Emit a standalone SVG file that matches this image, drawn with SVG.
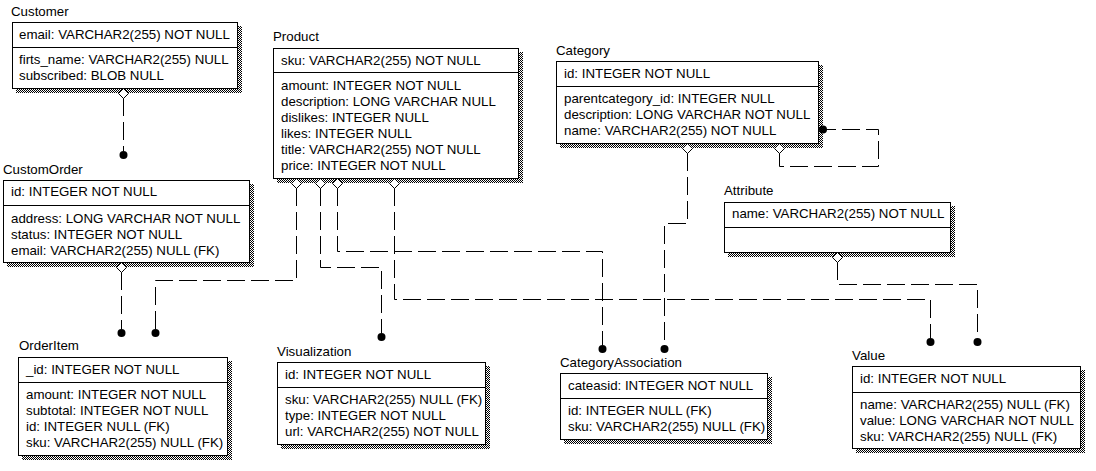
<svg xmlns="http://www.w3.org/2000/svg" width="1096" height="471" viewBox="0 0 1096 471">
<style>
text{font-family:"Liberation Sans",Arial,sans-serif;font-size:13.3px;fill:#000}
.box{fill:#fff;stroke:#000;stroke-width:1}
.sh{fill:url(#dith)}
.div{stroke:#000;stroke-width:1}
.con{fill:none;stroke:#000;stroke-width:1;stroke-dasharray:18 6}
.dia{fill:#fff;stroke:#000;stroke-width:1}
.dot{fill:#000}
</style>
<defs>
<pattern id="dith" width="2" height="2" patternUnits="userSpaceOnUse">
<rect width="2" height="2" fill="#fff"/>
<rect width="1" height="1" fill="#000"/>
<rect x="1" y="1" width="1" height="1" fill="#000"/>
</pattern>
</defs>
<rect width="1096" height="471" fill="#fff"/>

<g id="connectors">
<path class="con" d="M123.5 98V151"/>
<path class="con" d="M121.5 272V329"/>
<path class="con" d="M296.5 188V280.5H155.5V329"/>
<path class="con" d="M320.5 188V267.5H381.5V333"/>
<path class="con" d="M337.5 188V251.5H602.5V345"/>
<path class="con" d="M394.5 188V299.5H930.5V338"/>
<path class="con" d="M687.5 153V223.5H664.5V345"/>
<path class="con" d="M779.5 153V166.5H878.5V129.5H823"/>
<path class="con" d="M837.5 262V284.5H977.5V338"/>
</g>

<g id="Customer">
<text x="11" y="16">Customer</text>
<rect class="sh" x="16" y="26" width="226" height="67"/>
<rect class="box" x="12.5" y="22.5" width="225" height="66"/>
<line class="div" x1="12" y1="47.5" x2="238" y2="47.5"/>
<text x="19" y="39">email: VARCHAR2(255) NOT NULL</text>
<text x="19" y="64">firts_name: VARCHAR2(255) NULL</text>
<text x="19" y="80">subscribed: BLOB NULL</text>
<polygon class="dia" points="123.5,88.5 128.5,93.5 123.5,98.5 118.5,93.5"/>
</g>

<g id="CustomOrder">
<text x="3" y="174">CustomOrder</text>
<rect class="sh" x="7" y="184" width="247" height="83"/>
<rect class="box" x="3.5" y="180.5" width="246" height="82"/>
<line class="div" x1="3" y1="205.5" x2="250" y2="205.5"/>
<text x="11" y="196">id: INTEGER NOT NULL</text>
<text x="11" y="223">address: LONG VARCHAR NOT NULL</text>
<text x="11" y="239">status: INTEGER NOT NULL</text>
<text x="11" y="255">email: VARCHAR2(255) NULL (FK)</text>
<polygon class="dia" points="121.5,262.5 126.5,267.5 121.5,272.5 116.5,267.5"/>
<circle class="dot" cx="123.5" cy="155" r="4"/>
</g>

<g id="OrderItem">
<text x="19" y="350">OrderItem</text>
<rect class="sh" x="22" y="361" width="210" height="99"/>
<rect class="box" x="18.5" y="357.5" width="209" height="98"/>
<line class="div" x1="18" y1="382.5" x2="228" y2="382.5"/>
<text x="26" y="374">_id: INTEGER NOT NULL</text>
<text x="26" y="399">amount: INTEGER NOT NULL</text>
<text x="26" y="415">subtotal: INTEGER NOT NULL</text>
<text x="26" y="431">id: INTEGER NULL (FK)</text>
<text x="26" y="447">sku: VARCHAR2(255) NULL (FK)</text>
<circle class="dot" cx="121.5" cy="333" r="4"/>
<circle class="dot" cx="155.5" cy="333" r="4"/>
</g>

<g id="Product">
<text x="273" y="41">Product</text>
<rect class="sh" x="277" y="52" width="246" height="131"/>
<rect class="box" x="273.5" y="48.5" width="245" height="130"/>
<line class="div" x1="273" y1="72.5" x2="519" y2="72.5"/>
<text x="281" y="65">sku: VARCHAR2(255) NOT NULL</text>
<text x="281" y="90">amount: INTEGER NOT NULL</text>
<text x="281" y="106">description: LONG VARCHAR NULL</text>
<text x="281" y="122">dislikes: INTEGER NULL</text>
<text x="281" y="138">likes: INTEGER NULL</text>
<text x="281" y="154">title: VARCHAR2(255) NOT NULL</text>
<text x="281" y="170">price: INTEGER NOT NULL</text>
<polygon class="dia" points="296.5,178.5 301.5,183.5 296.5,188.5 291.5,183.5"/>
<polygon class="dia" points="320.5,178.5 325.5,183.5 320.5,188.5 315.5,183.5"/>
<polygon class="dia" points="337.5,178.5 342.5,183.5 337.5,188.5 332.5,183.5"/>
<polygon class="dia" points="394.5,178.5 399.5,183.5 394.5,188.5 389.5,183.5"/>
</g>

<g id="Visualization">
<text x="277" y="356">Visualization</text>
<rect class="sh" x="281" y="366" width="209" height="83"/>
<rect class="box" x="277.5" y="362.5" width="208" height="82"/>
<line class="div" x1="277" y1="387.5" x2="486" y2="387.5"/>
<text x="285" y="379">id: INTEGER NOT NULL</text>
<text x="285" y="404">sku: VARCHAR2(255) NULL (FK)</text>
<text x="285" y="420">type: INTEGER NOT NULL</text>
<text x="285" y="436">url: VARCHAR2(255) NOT NULL</text>
<circle class="dot" cx="381.5" cy="337" r="4"/>
</g>

<g id="Category">
<text x="556" y="55">Category</text>
<rect class="sh" x="560" y="65" width="263" height="83"/>
<rect class="box" x="556.5" y="61.5" width="262" height="82"/>
<line class="div" x1="556" y1="86.5" x2="819" y2="86.5"/>
<text x="564" y="78">id: INTEGER NOT NULL</text>
<text x="564" y="103">parentcategory_id: INTEGER NULL</text>
<text x="564" y="119">description: LONG VARCHAR NOT NULL</text>
<text x="564" y="135">name: VARCHAR2(255) NOT NULL</text>
<polygon class="dia" points="687.5,143.5 692.5,148.5 687.5,153.5 682.5,148.5"/>
<polygon class="dia" points="779.5,143.5 784.5,148.5 779.5,153.5 774.5,148.5"/>
<circle class="dot" cx="823" cy="129.5" r="4"/>
</g>

<g id="Attribute">
<text x="724" y="195">Attribute</text>
<rect class="sh" x="728" y="206" width="227" height="51"/>
<rect class="box" x="724.5" y="202.5" width="226" height="50"/>
<line class="div" x1="724" y1="227.5" x2="951" y2="227.5"/>
<text x="732" y="218">name: VARCHAR2(255) NOT NULL</text>
<polygon class="dia" points="837.5,252.5 842.5,257.5 837.5,262.5 832.5,257.5"/>
</g>

<g id="CategoryAssociation">
<text x="560" y="367">CategoryAssociation</text>
<rect class="sh" x="564" y="377" width="208" height="67"/>
<rect class="box" x="560.5" y="373.5" width="207" height="66"/>
<line class="div" x1="560" y1="398.5" x2="768" y2="398.5"/>
<text x="568" y="390">cateasid: INTEGER NOT NULL</text>
<text x="568" y="415">id: INTEGER NULL (FK)</text>
<text x="568" y="431">sku: VARCHAR2(255) NULL (FK)</text>
<circle class="dot" cx="602.5" cy="349" r="4"/>
<circle class="dot" cx="664.5" cy="349" r="4"/>
</g>

<g id="Value">
<text x="852" y="360">Value</text>
<rect class="sh" x="856" y="370" width="229" height="83"/>
<rect class="box" x="852.5" y="366.5" width="228" height="82"/>
<line class="div" x1="852" y1="392.5" x2="1081" y2="392.5"/>
<text x="860" y="383">id: INTEGER NOT NULL</text>
<text x="860" y="409">name: VARCHAR2(255) NULL (FK)</text>
<text x="860" y="425">value: LONG VARCHAR NOT NULL</text>
<text x="860" y="441">sku: VARCHAR2(255) NULL (FK)</text>
<circle class="dot" cx="930.5" cy="342" r="4"/>
<circle class="dot" cx="977.5" cy="342" r="4"/>
</g>
</svg>
